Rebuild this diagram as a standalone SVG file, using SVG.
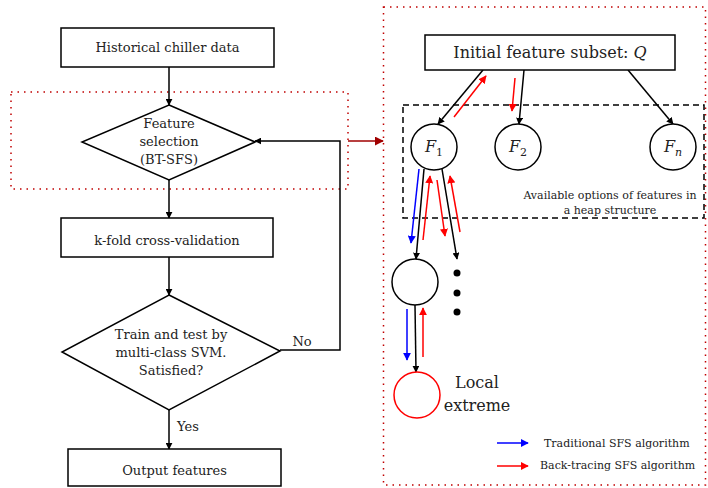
<svg xmlns="http://www.w3.org/2000/svg" width="708" height="488" viewBox="0 0 708 488">
  <style>
    .box { fill: #fff; stroke: #000; stroke-width: 1.5; }
    .node { fill: #fff; stroke: #000; stroke-width: 1.5; }
    .edge { fill: none; stroke: #000; stroke-width: 1.5; }
    .blue { fill: none; stroke: #0000ff; stroke-width: 1.5; }
    .red { fill: none; stroke: #ff0000; stroke-width: 1.5; }
    .dotted { fill: none; stroke: #c00000; stroke-width: 1.5; stroke-dasharray: 1.5 5; }
    .dashed { fill: none; stroke: #000; stroke-width: 1.5; stroke-dasharray: 6 4; }
    text { font-family: "DejaVu Serif", serif; fill: #222; }
    .t13 { font-size: 13px; text-anchor: middle; }
    .t11 { font-size: 11px; }
    .big { font-size: 16px; text-anchor: middle; }
  </style>
  <defs>
    <marker id="ah" viewBox="0 0 10 10" refX="9" refY="5" markerWidth="7" markerHeight="7" markerUnits="userSpaceOnUse" orient="auto">
      <path d="M0,0 L10,5 L0,10 z" fill="#000"/>
    </marker>
    <marker id="ahb" viewBox="0 0 10 10" refX="9" refY="5" markerWidth="8" markerHeight="8" markerUnits="userSpaceOnUse" orient="auto">
      <path d="M0,0 L10,5 L0,10 z" fill="#0000ff"/>
    </marker>
    <marker id="ahr" viewBox="0 0 10 10" refX="9" refY="5" markerWidth="8" markerHeight="8" markerUnits="userSpaceOnUse" orient="auto">
      <path d="M0,0 L10,5 L0,10 z" fill="#ff0000"/>
    </marker>
    <marker id="ahd" viewBox="0 0 10 10" refX="9" refY="5" markerWidth="9" markerHeight="9" markerUnits="userSpaceOnUse" orient="auto">
      <path d="M0,0 L10,5 L0,10 z" fill="#a00000"/>
    </marker>
  </defs>

  <!-- highlight frames -->
  <rect class="dotted" x="11" y="92" width="337" height="97"/>
  <rect class="dotted" x="383.5" y="7" width="322" height="478"/>
  <rect class="dashed" x="403" y="105" width="301" height="113"/>

  <!-- connectors -->
  <g id="connectors">
    <line class="edge" x1="169" y1="67" x2="169" y2="105" marker-end="url(#ah)"/>
    <line class="edge" x1="169" y1="180" x2="169" y2="218" marker-end="url(#ah)"/>
    <line class="edge" x1="169" y1="257" x2="169" y2="295" marker-end="url(#ah)"/>
    <line class="edge" x1="169" y1="410" x2="169" y2="449" marker-end="url(#ah)"/>
    <polyline class="edge" points="280,350 340,350 340,141 255,141" marker-end="url(#ah)"/>
    <line stroke="#a00000" stroke-width="1.5" x1="348" y1="141" x2="383" y2="141" marker-end="url(#ahd)"/>

    <line class="edge" x1="483" y1="70" x2="438" y2="124" marker-end="url(#ah)"/>
    <line class="edge" x1="524" y1="70" x2="519" y2="124" marker-end="url(#ah)"/>
    <line class="edge" x1="628" y1="70" x2="673" y2="124" marker-end="url(#ah)"/>
    <line class="red" x1="454" y1="117" x2="486" y2="76" marker-end="url(#ahr)"/>
    <line class="red" x1="515" y1="78" x2="512" y2="111" marker-end="url(#ahr)"/>

    <line class="edge" x1="424" y1="169" x2="416" y2="259" marker-end="url(#ah)"/>
    <line class="edge" x1="442" y1="169" x2="457" y2="259" marker-end="url(#ah)"/>
    <line class="blue" x1="419" y1="169" x2="411" y2="243" marker-end="url(#ahb)"/>
    <line class="red" x1="423" y1="240" x2="430" y2="176" marker-end="url(#ahr)"/>
    <line class="red" x1="437" y1="180" x2="445" y2="236" marker-end="url(#ahr)"/>
    <line class="red" x1="460" y1="232" x2="450" y2="176" marker-end="url(#ahr)"/>

    <line class="edge" x1="415" y1="305" x2="416" y2="372" marker-end="url(#ah)"/>
    <line class="blue" x1="407" y1="309" x2="407" y2="360" marker-end="url(#ahb)"/>
    <line class="red" x1="423" y1="357" x2="423" y2="308" marker-end="url(#ahr)"/>
  </g>

  <!-- flowchart -->
  <g id="historical-data">
    <rect class="box" x="61" y="28" width="213" height="39"/>
    <text class="t13" x="167.5" y="52">Historical chiller data</text>
  </g>
  <g id="feature-selection">
    <polygon class="node" points="169,105 255,142 169,180 82,142"/>
    <text class="t13" x="169" y="128">Feature</text>
    <text class="t13" x="169" y="146">selection</text>
    <text class="t13" x="169" y="164">(BT-SFS)</text>
  </g>
  <g id="cross-validation">
    <rect class="box" x="61" y="218" width="212" height="39"/>
    <text class="t13" x="167" y="245">k-fold cross-validation</text>
  </g>
  <g id="svm-test">
    <polygon class="node" points="169,295 280,351 169,410 62,352"/>
    <text class="t13" x="171" y="339">Train and test by</text>
    <text class="t13" x="171" y="357">multi-class SVM.</text>
    <text class="t13" x="171" y="375">Satisfied?</text>
  </g>
  <text class="t13" x="302" y="346">No</text>
  <text class="t13" x="188" y="431">Yes</text>
  <g id="output-features">
    <rect class="box" x="68" y="449" width="213" height="37"/>
    <text class="t13" x="174.5" y="475">Output features</text>
  </g>

  <!-- heap search -->
  <g id="initial-subset">
    <rect class="box" x="425" y="35" width="250" height="35"/>
    <text class="big" x="550" y="58">Initial feature subset: <tspan font-style="italic">Q</tspan></text>
  </g>
  <g id="f1">
    <circle class="node" cx="434" cy="147" r="23"/>
    <text class="big" x="434" y="152"><tspan font-style="italic">F</tspan><tspan font-size="11" dy="4">1</tspan></text>
  </g>
  <g id="f2">
    <circle class="node" cx="518" cy="147" r="23"/>
    <text class="big" x="518" y="152"><tspan font-style="italic">F</tspan><tspan font-size="11" dy="4">2</tspan></text>
  </g>
  <g id="fn">
    <circle class="node" cx="673" cy="147" r="23"/>
    <text class="big" x="673" y="152"><tspan font-style="italic">F</tspan><tspan font-size="11" font-style="italic" dy="4">n</tspan></text>
  </g>
  <text class="t11" x="610" y="199" text-anchor="middle">Available options of features in</text>
  <text class="t11" x="610" y="214" text-anchor="middle">a heap structure</text>

  <g id="mid-node">
    <circle class="node" cx="415" cy="282" r="23"/>
  </g>
  <g id="more">
    <circle cx="457" cy="273" r="3.5" fill="#000"/>
    <circle cx="457" cy="293" r="3.5" fill="#000"/>
    <circle cx="457" cy="312" r="3.5" fill="#000"/>
  </g>
  <g id="local-extreme">
    <circle cx="417" cy="395" r="23" fill="#fff" stroke="#ff0000" stroke-width="1.5"/>
    <text class="big" x="477" y="388">Local</text>
    <text class="big" x="477" y="411">extreme</text>
  </g>

  <!-- legend -->
  <g id="legend">
    <line class="blue" x1="497" y1="443" x2="528" y2="443" marker-end="url(#ahb)"/>
    <text class="t11" x="544" y="447">Traditional SFS algorithm</text>
    <line class="red" x1="497" y1="466" x2="528" y2="466" marker-end="url(#ahr)"/>
    <text class="t11" x="540" y="469">Back-tracing SFS algorithm</text>
  </g>
</svg>
